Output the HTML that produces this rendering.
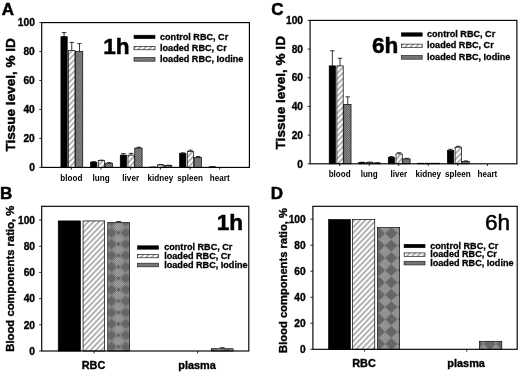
<!DOCTYPE html>
<html lang="en"><head><meta charset="utf-8"><title>Figure</title>
<style>
html,body{margin:0;padding:0;background:#fff;}
svg{display:block;filter:blur(0.5px);font-family:"Liberation Sans", Arial, Helvetica, sans-serif;}
text{fill:#000;stroke:#000;}
</style></head><body>
<svg width="520" height="373" viewBox="0 0 520 373">
<defs>
<pattern id="hatch" width="3.92" height="3.92" patternUnits="userSpaceOnUse" patternTransform="rotate(-46.5)">
<rect width="3.92" height="3.92" fill="#fff"/><line x1="0" y1="1" x2="3.92" y2="1" stroke="#000" stroke-width="0.6"/></pattern>
<pattern id="hatchs" width="3.6" height="3.6" patternUnits="userSpaceOnUse" patternTransform="rotate(-50)">
<rect width="3.6" height="3.6" fill="#fff"/><line x1="0" y1="0" x2="3.6" y2="0" stroke="#000" stroke-width="0.9"/></pattern>
<pattern id="grey" width="1.6" height="1.6" patternUnits="userSpaceOnUse" patternTransform="rotate(45)">
<rect width="1.6" height="1.6" fill="#9c9c9c"/><path d="M0 0.4H1.6M0.4 0V1.6" stroke="#4c4c4c" stroke-width="0.45"/></pattern>
<pattern id="fine" width="1.6" height="1.6" patternUnits="userSpaceOnUse" patternTransform="rotate(45)">
<path d="M0 0.4H1.6M0.4 0V1.6" stroke="#333" stroke-width="0.4"/></pattern>
<pattern id="moireD" x="379.0" y="257.9" width="12.3" height="12.3" patternUnits="userSpaceOnUse">
<rect width="12.3" height="12.3" fill="#969696"/>
<polygon points="0,0 6.15,0 0,6.15" fill="#727272"/><polygon points="12.3,0 6.15,0 12.3,6.15" fill="#727272"/>
<polygon points="0,12.3 6.15,12.3 0,6.15" fill="#727272"/><polygon points="12.3,12.3 6.15,12.3 12.3,6.15" fill="#727272"/>
<polygon points="6.15,0 12.3,6.15 6.15,12.3 0,6.15" fill="#aaaaaa"/>
</pattern>
<pattern id="moireB" x="111.4" y="232.7" width="14.4" height="11.4" patternUnits="userSpaceOnUse">
<rect width="14.4" height="11.4" fill="#989898"/>
<polygon points="0,0 5,0 0,5" fill="#727272"/><polygon points="14.4,0 9.4,0 14.4,5" fill="#727272"/>
<polygon points="0,11.4 5,11.4 0,6.4" fill="#727272"/><polygon points="14.4,11.4 9.4,11.4 14.4,6.4" fill="#727272"/>
<polygon points="7.2,0.6 12.3,5.7 7.2,10.8 2.1,5.7" fill="#acacac"/>
<rect x="6.4" y="-1.6" width="1.6" height="3.2" fill="#555"/><rect x="6.4" y="9.8" width="1.6" height="3.2" fill="#555"/>
</pattern>
</defs>
<rect width="520" height="373" fill="#fff"/>
<line x1="64.07" y1="36.65" x2="64.07" y2="32.59" stroke="#000" stroke-width="0.8"/>
<line x1="61.87" y1="32.59" x2="66.27" y2="32.59" stroke="#000" stroke-width="0.8"/>
<rect x="60.92" y="36.65" width="6.30" height="130.75" fill="#000" stroke="#000" stroke-width="0.7"/>
<line x1="71.77" y1="50.40" x2="71.77" y2="42.44" stroke="#000" stroke-width="0.8"/>
<line x1="69.57" y1="42.44" x2="73.97" y2="42.44" stroke="#000" stroke-width="0.8"/>
<rect x="68.62" y="50.40" width="6.30" height="117.00" fill="url(#hatch)" stroke="#000" stroke-width="0.7"/>
<line x1="79.47" y1="51.56" x2="79.47" y2="43.60" stroke="#000" stroke-width="0.8"/>
<line x1="77.27" y1="43.60" x2="81.67" y2="43.60" stroke="#000" stroke-width="0.8"/>
<rect x="75.42" y="51.56" width="7.35" height="115.84" fill="url(#grey)" stroke="#000" stroke-width="0.7"/>
<line x1="71.37" y1="167.40" x2="71.37" y2="169.60" stroke="#000" stroke-width="0.8"/>
<text x="71.37" y="180.70" font-size="8.8" font-weight="bold" text-anchor="middle" stroke-width="0" textLength="22" lengthAdjust="spacingAndGlyphs">blood</text>
<line x1="93.74" y1="162.19" x2="93.74" y2="161.61" stroke="#000" stroke-width="0.8"/>
<line x1="91.54" y1="161.61" x2="95.94" y2="161.61" stroke="#000" stroke-width="0.8"/>
<rect x="90.59" y="162.19" width="6.30" height="5.21" fill="#000" stroke="#000" stroke-width="0.7"/>
<line x1="101.44" y1="160.59" x2="101.44" y2="160.16" stroke="#000" stroke-width="0.8"/>
<line x1="99.24" y1="160.16" x2="103.64" y2="160.16" stroke="#000" stroke-width="0.8"/>
<rect x="98.29" y="160.59" width="6.30" height="6.81" fill="url(#hatch)" stroke="#000" stroke-width="0.7"/>
<line x1="109.14" y1="163.20" x2="109.14" y2="162.62" stroke="#000" stroke-width="0.8"/>
<line x1="106.94" y1="162.62" x2="111.34" y2="162.62" stroke="#000" stroke-width="0.8"/>
<rect x="105.09" y="163.20" width="7.35" height="4.20" fill="url(#grey)" stroke="#000" stroke-width="0.7"/>
<line x1="101.04" y1="167.40" x2="101.04" y2="169.60" stroke="#000" stroke-width="0.8"/>
<text x="101.04" y="180.70" font-size="8.8" font-weight="bold" text-anchor="middle" stroke-width="0" textLength="17.1" lengthAdjust="spacingAndGlyphs">lung</text>
<line x1="123.41" y1="155.09" x2="123.41" y2="153.64" stroke="#000" stroke-width="0.8"/>
<line x1="121.21" y1="153.64" x2="125.61" y2="153.64" stroke="#000" stroke-width="0.8"/>
<rect x="120.26" y="155.09" width="6.30" height="12.31" fill="#000" stroke="#000" stroke-width="0.7"/>
<line x1="131.11" y1="155.09" x2="131.11" y2="153.35" stroke="#000" stroke-width="0.8"/>
<line x1="128.91" y1="153.35" x2="133.31" y2="153.35" stroke="#000" stroke-width="0.8"/>
<rect x="127.96" y="155.09" width="6.30" height="12.31" fill="url(#hatch)" stroke="#000" stroke-width="0.7"/>
<line x1="138.81" y1="148.00" x2="138.81" y2="147.27" stroke="#000" stroke-width="0.8"/>
<line x1="136.61" y1="147.27" x2="141.01" y2="147.27" stroke="#000" stroke-width="0.8"/>
<rect x="134.76" y="148.00" width="7.35" height="19.40" fill="url(#grey)" stroke="#000" stroke-width="0.7"/>
<line x1="130.71" y1="167.40" x2="130.71" y2="169.60" stroke="#000" stroke-width="0.8"/>
<text x="130.71" y="180.70" font-size="8.8" font-weight="bold" text-anchor="middle" stroke-width="0" textLength="16.7" lengthAdjust="spacingAndGlyphs">liver</text>
<rect x="149.94" y="166.97" width="6.30" height="0.43" fill="#000" stroke="#000" stroke-width="0.7"/>
<line x1="160.79" y1="164.94" x2="160.79" y2="164.50" stroke="#000" stroke-width="0.8"/>
<line x1="158.59" y1="164.50" x2="162.99" y2="164.50" stroke="#000" stroke-width="0.8"/>
<rect x="157.64" y="164.94" width="6.30" height="2.46" fill="url(#hatch)" stroke="#000" stroke-width="0.7"/>
<line x1="168.49" y1="165.52" x2="168.49" y2="165.23" stroke="#000" stroke-width="0.8"/>
<line x1="166.29" y1="165.23" x2="170.69" y2="165.23" stroke="#000" stroke-width="0.8"/>
<rect x="164.44" y="165.52" width="7.35" height="1.88" fill="url(#grey)" stroke="#000" stroke-width="0.7"/>
<line x1="160.39" y1="167.40" x2="160.39" y2="169.60" stroke="#000" stroke-width="0.8"/>
<text x="160.39" y="180.70" font-size="8.8" font-weight="bold" text-anchor="middle" stroke-width="0" textLength="25.7" lengthAdjust="spacingAndGlyphs">kidney</text>
<line x1="182.76" y1="153.50" x2="182.76" y2="152.78" stroke="#000" stroke-width="0.8"/>
<line x1="180.56" y1="152.78" x2="184.96" y2="152.78" stroke="#000" stroke-width="0.8"/>
<rect x="179.61" y="153.50" width="6.30" height="13.90" fill="#000" stroke="#000" stroke-width="0.7"/>
<line x1="190.46" y1="151.62" x2="190.46" y2="150.17" stroke="#000" stroke-width="0.8"/>
<line x1="188.26" y1="150.17" x2="192.66" y2="150.17" stroke="#000" stroke-width="0.8"/>
<rect x="187.31" y="151.62" width="6.30" height="15.78" fill="url(#hatch)" stroke="#000" stroke-width="0.7"/>
<line x1="198.16" y1="157.41" x2="198.16" y2="156.54" stroke="#000" stroke-width="0.8"/>
<line x1="195.96" y1="156.54" x2="200.36" y2="156.54" stroke="#000" stroke-width="0.8"/>
<rect x="194.11" y="157.41" width="7.35" height="9.99" fill="url(#grey)" stroke="#000" stroke-width="0.7"/>
<line x1="190.06" y1="167.40" x2="190.06" y2="169.60" stroke="#000" stroke-width="0.8"/>
<text x="190.06" y="180.70" font-size="8.8" font-weight="bold" text-anchor="middle" stroke-width="0" textLength="25.7" lengthAdjust="spacingAndGlyphs">spleen</text>
<rect x="209.28" y="166.68" width="6.30" height="0.72" fill="#000" stroke="#000" stroke-width="0.7"/>
<line x1="219.73" y1="167.40" x2="219.73" y2="169.60" stroke="#000" stroke-width="0.8"/>
<text x="219.73" y="180.70" font-size="8.8" font-weight="bold" text-anchor="middle" stroke-width="0" textLength="19.8" lengthAdjust="spacingAndGlyphs">heart</text>
<rect x="41.7" y="22.6" width="207.7" height="144.8" fill="none" stroke="#000" stroke-width="1.15"/>
<line x1="39.30" y1="167.40" x2="41.70" y2="167.40" stroke="#000" stroke-width="0.8"/>
<text x="34.80" y="171.10" font-size="10.2" font-weight="bold" text-anchor="end" stroke-width="0.33" >0</text>
<line x1="39.30" y1="138.44" x2="41.70" y2="138.44" stroke="#000" stroke-width="0.8"/>
<text x="34.80" y="142.14" font-size="10.2" font-weight="bold" text-anchor="end" stroke-width="0.33" >20</text>
<line x1="39.30" y1="109.48" x2="41.70" y2="109.48" stroke="#000" stroke-width="0.8"/>
<text x="34.80" y="113.18" font-size="10.2" font-weight="bold" text-anchor="end" stroke-width="0.33" >40</text>
<line x1="39.30" y1="80.52" x2="41.70" y2="80.52" stroke="#000" stroke-width="0.8"/>
<text x="34.80" y="84.22" font-size="10.2" font-weight="bold" text-anchor="end" stroke-width="0.33" >60</text>
<line x1="39.30" y1="51.56" x2="41.70" y2="51.56" stroke="#000" stroke-width="0.8"/>
<text x="34.80" y="55.26" font-size="10.2" font-weight="bold" text-anchor="end" stroke-width="0.33" >80</text>
<line x1="39.30" y1="22.60" x2="41.70" y2="22.60" stroke="#000" stroke-width="0.8"/>
<text x="34.80" y="26.30" font-size="10.2" font-weight="bold" text-anchor="end" stroke-width="0.33" >100</text>
<text transform="translate(14.80,151.50) rotate(-90)" font-size="13.6" font-weight="bold" stroke-width="0.43" textLength="113.3" lengthAdjust="spacingAndGlyphs">Tissue level, % ID</text>
<text x="1.80" y="15.00" font-size="17" font-weight="bold" text-anchor="start" stroke-width="0.5" >A</text>
<text x="103.20" y="53.80" font-size="22.6" font-weight="bold" text-anchor="start" stroke-width="0.5" >1h</text>
<rect x="134.00" y="35.20" width="21.00" height="3.40" fill="#000" stroke="#000" stroke-width="0.6"/>
<text x="160.00" y="39.55" font-size="9.1" font-weight="bold" text-anchor="start" stroke-width="0.29" >control RBC, Cr</text>
<rect x="134.00" y="46.40" width="21.00" height="3.40" fill="url(#hatch)" stroke="#000" stroke-width="0.6"/>
<text x="160.00" y="50.75" font-size="9.1" font-weight="bold" text-anchor="start" stroke-width="0.29" >loaded RBC, Cr</text>
<rect x="134.00" y="57.60" width="21.00" height="3.60" fill="url(#grey)" stroke="#222" stroke-width="0.7"/>
<text x="160.00" y="62.05" font-size="9.1" font-weight="bold" text-anchor="start" stroke-width="0.29" >loaded RBC, Iodine</text>
<line x1="332.34" y1="65.86" x2="332.34" y2="50.80" stroke="#000" stroke-width="0.8"/>
<line x1="330.14" y1="50.80" x2="334.54" y2="50.80" stroke="#000" stroke-width="0.8"/>
<rect x="329.19" y="65.86" width="6.30" height="97.94" fill="#000" stroke="#000" stroke-width="0.7"/>
<line x1="340.04" y1="65.86" x2="340.04" y2="58.26" stroke="#000" stroke-width="0.8"/>
<line x1="337.84" y1="58.26" x2="342.24" y2="58.26" stroke="#000" stroke-width="0.8"/>
<rect x="336.89" y="65.86" width="6.30" height="97.94" fill="url(#hatch)" stroke="#000" stroke-width="0.7"/>
<line x1="347.74" y1="104.43" x2="347.74" y2="96.83" stroke="#000" stroke-width="0.8"/>
<line x1="345.54" y1="96.83" x2="349.94" y2="96.83" stroke="#000" stroke-width="0.8"/>
<rect x="343.69" y="104.43" width="7.35" height="59.37" fill="url(#grey)" stroke="#000" stroke-width="0.7"/>
<line x1="339.64" y1="163.80" x2="339.64" y2="166.00" stroke="#000" stroke-width="0.8"/>
<text x="339.64" y="177.10" font-size="8.8" font-weight="bold" text-anchor="middle" stroke-width="0" textLength="22" lengthAdjust="spacingAndGlyphs">blood</text>
<line x1="361.89" y1="162.51" x2="361.89" y2="162.22" stroke="#000" stroke-width="0.8"/>
<line x1="359.69" y1="162.22" x2="364.09" y2="162.22" stroke="#000" stroke-width="0.8"/>
<rect x="358.74" y="162.51" width="6.30" height="1.29" fill="#000" stroke="#000" stroke-width="0.7"/>
<line x1="369.59" y1="162.37" x2="369.59" y2="162.08" stroke="#000" stroke-width="0.8"/>
<line x1="367.39" y1="162.08" x2="371.79" y2="162.08" stroke="#000" stroke-width="0.8"/>
<rect x="366.44" y="162.37" width="6.30" height="1.43" fill="url(#hatch)" stroke="#000" stroke-width="0.7"/>
<line x1="377.29" y1="162.94" x2="377.29" y2="162.80" stroke="#000" stroke-width="0.8"/>
<line x1="375.09" y1="162.80" x2="379.49" y2="162.80" stroke="#000" stroke-width="0.8"/>
<rect x="373.24" y="162.94" width="7.35" height="0.86" fill="url(#grey)" stroke="#000" stroke-width="0.7"/>
<line x1="369.19" y1="163.80" x2="369.19" y2="166.00" stroke="#000" stroke-width="0.8"/>
<text x="369.19" y="177.10" font-size="8.8" font-weight="bold" text-anchor="middle" stroke-width="0" textLength="17.1" lengthAdjust="spacingAndGlyphs">lung</text>
<line x1="391.43" y1="157.35" x2="391.43" y2="156.49" stroke="#000" stroke-width="0.8"/>
<line x1="389.23" y1="156.49" x2="393.63" y2="156.49" stroke="#000" stroke-width="0.8"/>
<rect x="388.28" y="157.35" width="6.30" height="6.45" fill="#000" stroke="#000" stroke-width="0.7"/>
<line x1="399.13" y1="153.91" x2="399.13" y2="152.76" stroke="#000" stroke-width="0.8"/>
<line x1="396.93" y1="152.76" x2="401.33" y2="152.76" stroke="#000" stroke-width="0.8"/>
<rect x="395.98" y="153.91" width="6.30" height="9.89" fill="url(#hatch)" stroke="#000" stroke-width="0.7"/>
<line x1="406.83" y1="158.92" x2="406.83" y2="158.35" stroke="#000" stroke-width="0.8"/>
<line x1="404.63" y1="158.35" x2="409.03" y2="158.35" stroke="#000" stroke-width="0.8"/>
<rect x="402.78" y="158.92" width="7.35" height="4.88" fill="url(#grey)" stroke="#000" stroke-width="0.7"/>
<line x1="398.73" y1="163.80" x2="398.73" y2="166.00" stroke="#000" stroke-width="0.8"/>
<text x="398.73" y="177.10" font-size="8.8" font-weight="bold" text-anchor="middle" stroke-width="0" textLength="16.7" lengthAdjust="spacingAndGlyphs">liver</text>
<rect x="417.82" y="163.23" width="6.30" height="0.57" fill="#000" stroke="#000" stroke-width="0.7"/>
<rect x="425.52" y="163.23" width="6.30" height="0.57" fill="url(#hatch)" stroke="#000" stroke-width="0.7"/>
<rect x="432.32" y="163.23" width="7.35" height="0.57" fill="url(#grey)" stroke="#000" stroke-width="0.7"/>
<line x1="428.27" y1="163.80" x2="428.27" y2="166.00" stroke="#000" stroke-width="0.8"/>
<text x="428.27" y="177.10" font-size="8.8" font-weight="bold" text-anchor="middle" stroke-width="0" textLength="25.7" lengthAdjust="spacingAndGlyphs">kidney</text>
<line x1="450.51" y1="150.46" x2="450.51" y2="149.32" stroke="#000" stroke-width="0.8"/>
<line x1="448.31" y1="149.32" x2="452.71" y2="149.32" stroke="#000" stroke-width="0.8"/>
<rect x="447.36" y="150.46" width="6.30" height="13.34" fill="#000" stroke="#000" stroke-width="0.7"/>
<line x1="458.21" y1="147.17" x2="458.21" y2="146.31" stroke="#000" stroke-width="0.8"/>
<line x1="456.01" y1="146.31" x2="460.41" y2="146.31" stroke="#000" stroke-width="0.8"/>
<rect x="455.06" y="147.17" width="6.30" height="16.63" fill="url(#hatch)" stroke="#000" stroke-width="0.7"/>
<line x1="465.91" y1="161.36" x2="465.91" y2="160.93" stroke="#000" stroke-width="0.8"/>
<line x1="463.71" y1="160.93" x2="468.11" y2="160.93" stroke="#000" stroke-width="0.8"/>
<rect x="461.86" y="161.36" width="7.35" height="2.44" fill="url(#grey)" stroke="#000" stroke-width="0.7"/>
<line x1="457.81" y1="163.80" x2="457.81" y2="166.00" stroke="#000" stroke-width="0.8"/>
<text x="457.81" y="177.10" font-size="8.8" font-weight="bold" text-anchor="middle" stroke-width="0" textLength="25.7" lengthAdjust="spacingAndGlyphs">spleen</text>
<line x1="487.36" y1="163.80" x2="487.36" y2="166.00" stroke="#000" stroke-width="0.8"/>
<text x="487.36" y="177.10" font-size="8.8" font-weight="bold" text-anchor="middle" stroke-width="0" textLength="19.8" lengthAdjust="spacingAndGlyphs">heart</text>
<rect x="310.1" y="20.4" width="206.79999999999995" height="143.4" fill="none" stroke="#000" stroke-width="1.15"/>
<line x1="307.70" y1="163.80" x2="310.10" y2="163.80" stroke="#000" stroke-width="0.8"/>
<text x="303.00" y="167.50" font-size="10.2" font-weight="bold" text-anchor="end" stroke-width="0.33" >0</text>
<line x1="307.70" y1="135.12" x2="310.10" y2="135.12" stroke="#000" stroke-width="0.8"/>
<text x="303.00" y="138.82" font-size="10.2" font-weight="bold" text-anchor="end" stroke-width="0.33" >20</text>
<line x1="307.70" y1="106.44" x2="310.10" y2="106.44" stroke="#000" stroke-width="0.8"/>
<text x="303.00" y="110.14" font-size="10.2" font-weight="bold" text-anchor="end" stroke-width="0.33" >40</text>
<line x1="307.70" y1="77.76" x2="310.10" y2="77.76" stroke="#000" stroke-width="0.8"/>
<text x="303.00" y="81.46" font-size="10.2" font-weight="bold" text-anchor="end" stroke-width="0.33" >60</text>
<line x1="307.70" y1="49.08" x2="310.10" y2="49.08" stroke="#000" stroke-width="0.8"/>
<text x="303.00" y="52.78" font-size="10.2" font-weight="bold" text-anchor="end" stroke-width="0.33" >80</text>
<line x1="307.70" y1="20.40" x2="310.10" y2="20.40" stroke="#000" stroke-width="0.8"/>
<text x="303.00" y="24.10" font-size="10.2" font-weight="bold" text-anchor="end" stroke-width="0.33" >100</text>
<text transform="translate(285.40,149.40) rotate(-90)" font-size="13.6" font-weight="bold" stroke-width="0.43" textLength="113.3" lengthAdjust="spacingAndGlyphs">Tissue level, % ID</text>
<text x="271.20" y="15.10" font-size="17" font-weight="bold" text-anchor="start" stroke-width="0.5" >C</text>
<text x="371.90" y="52.70" font-size="22.6" font-weight="bold" text-anchor="start" stroke-width="0.5" >6h</text>
<rect x="401.30" y="32.80" width="20.90" height="3.40" fill="#000" stroke="#000" stroke-width="0.6"/>
<text x="427.00" y="37.15" font-size="9.1" font-weight="bold" text-anchor="start" stroke-width="0.29" >control RBC, Cr</text>
<rect x="401.30" y="44.10" width="20.90" height="3.40" fill="url(#hatch)" stroke="#000" stroke-width="0.6"/>
<text x="427.00" y="48.45" font-size="9.1" font-weight="bold" text-anchor="start" stroke-width="0.29" >loaded RBC, Cr</text>
<rect x="401.30" y="55.60" width="20.90" height="3.60" fill="url(#grey)" stroke="#222" stroke-width="0.7"/>
<text x="427.00" y="60.05" font-size="9.1" font-weight="bold" text-anchor="start" stroke-width="0.29" >loaded RBC, Iodine</text>
<rect x="58.25" y="220.92" width="22.20" height="130.08" fill="#000" stroke="#000" stroke-width="0.7"/>
<rect x="83.05" y="220.92" width="21.60" height="130.08" fill="url(#hatch)" stroke="#000" stroke-width="0.7"/>
<line x1="118.65" y1="222.28" x2="118.65" y2="221.62" stroke="#000" stroke-width="0.8"/>
<line x1="116.15" y1="221.62" x2="121.15" y2="221.62" stroke="#000" stroke-width="0.8"/>
<rect x="107.75" y="222.63" width="21.80" height="128.37" fill="url(#moireB)" stroke="#000" stroke-width="0.7"/>
<rect x="108.10" y="222.98" width="21.10" height="128.02" fill="url(#fine)" opacity="0.45"/>
<line x1="94.08" y1="351.00" x2="94.08" y2="353.40" stroke="#000" stroke-width="0.8"/>
<text x="93.48" y="369.30" font-size="10.9" font-weight="bold" text-anchor="middle" stroke-width="0.35" >RBC</text>
<line x1="222.20" y1="348.38" x2="222.20" y2="347.73" stroke="#000" stroke-width="0.8"/>
<line x1="219.70" y1="347.73" x2="224.70" y2="347.73" stroke="#000" stroke-width="0.8"/>
<rect x="211.30" y="348.73" width="21.80" height="2.27" fill="url(#moireB)" stroke="#000" stroke-width="0.7"/>
<rect x="211.65" y="349.08" width="21.10" height="1.92" fill="url(#fine)" opacity="0.45"/>
<line x1="197.63" y1="351.00" x2="197.63" y2="353.40" stroke="#000" stroke-width="0.8"/>
<text x="197.03" y="369.30" font-size="10.9" font-weight="bold" text-anchor="middle" stroke-width="0.35" >plasma</text>
<rect x="41.7" y="206.3" width="207.10000000000002" height="144.7" fill="none" stroke="#000" stroke-width="1.15"/>
<line x1="39.10" y1="351.00" x2="41.70" y2="351.00" stroke="#000" stroke-width="0.8"/>
<text x="35.00" y="354.70" font-size="10.2" font-weight="bold" text-anchor="end" stroke-width="0.33" >0</text>
<line x1="39.10" y1="324.81" x2="41.70" y2="324.81" stroke="#000" stroke-width="0.8"/>
<text x="35.00" y="328.51" font-size="10.2" font-weight="bold" text-anchor="end" stroke-width="0.33" >20</text>
<line x1="39.10" y1="298.62" x2="41.70" y2="298.62" stroke="#000" stroke-width="0.8"/>
<text x="35.00" y="302.32" font-size="10.2" font-weight="bold" text-anchor="end" stroke-width="0.33" >40</text>
<line x1="39.10" y1="272.43" x2="41.70" y2="272.43" stroke="#000" stroke-width="0.8"/>
<text x="35.00" y="276.13" font-size="10.2" font-weight="bold" text-anchor="end" stroke-width="0.33" >60</text>
<line x1="39.10" y1="246.24" x2="41.70" y2="246.24" stroke="#000" stroke-width="0.8"/>
<text x="35.00" y="249.94" font-size="10.2" font-weight="bold" text-anchor="end" stroke-width="0.33" >80</text>
<line x1="39.10" y1="220.05" x2="41.70" y2="220.05" stroke="#000" stroke-width="0.8"/>
<text x="35.00" y="223.75" font-size="10.2" font-weight="bold" text-anchor="end" stroke-width="0.33" >100</text>
<text transform="translate(13.90,351.70) rotate(-90)" font-size="11.7" font-weight="bold" stroke-width="0.37" textLength="146" lengthAdjust="spacingAndGlyphs">Blood components ratio, %</text>
<text x="0.00" y="199.20" font-size="17" font-weight="bold" text-anchor="start" stroke-width="0.5" >B</text>
<text x="216.80" y="229.70" font-size="22.6" font-weight="bold" text-anchor="start" stroke-width="0.5" >1h</text>
<rect x="137.60" y="245.80" width="21.00" height="3.40" fill="#000" stroke="#000" stroke-width="0.6"/>
<text x="164.20" y="250.15" font-size="9.1" font-weight="bold" text-anchor="start" stroke-width="0.29" >control RBC, Cr</text>
<rect x="137.60" y="254.40" width="21.00" height="3.40" fill="url(#hatch)" stroke="#000" stroke-width="0.6"/>
<text x="164.20" y="258.75" font-size="9.1" font-weight="bold" text-anchor="start" stroke-width="0.29" >loaded RBC, Cr</text>
<rect x="137.60" y="263.20" width="21.00" height="3.60" fill="url(#grey)" stroke="#222" stroke-width="0.7"/>
<text x="164.20" y="267.65" font-size="9.1" font-weight="bold" text-anchor="start" stroke-width="0.29" >loaded RBC, Iodine</text>
<rect x="328.65" y="219.53" width="21.70" height="129.77" fill="#000" stroke="#000" stroke-width="0.7"/>
<rect x="352.65" y="219.53" width="22.10" height="129.77" fill="url(#hatch)" stroke="#000" stroke-width="0.7"/>
<rect x="377.45" y="227.60" width="22.20" height="121.70" fill="url(#moireD)" stroke="#000" stroke-width="0.7"/>
<rect x="377.80" y="227.95" width="21.50" height="121.35" fill="url(#fine)" opacity="0.45"/>
<line x1="364.58" y1="349.30" x2="364.58" y2="351.70" stroke="#000" stroke-width="0.8"/>
<text x="363.98" y="367.40" font-size="10.9" font-weight="bold" text-anchor="middle" stroke-width="0.35" >RBC</text>
<rect x="479.60" y="341.32" width="22.20" height="7.98" fill="url(#moireD)" stroke="#000" stroke-width="0.7"/>
<rect x="479.95" y="341.67" width="21.50" height="7.63" fill="url(#fine)" opacity="0.45"/>
<line x1="466.73" y1="349.30" x2="466.73" y2="351.70" stroke="#000" stroke-width="0.8"/>
<text x="466.12" y="367.40" font-size="10.9" font-weight="bold" text-anchor="middle" stroke-width="0.35" >plasma</text>
<rect x="312.9" y="206.3" width="204.30000000000007" height="143.0" fill="none" stroke="#000" stroke-width="1.15"/>
<line x1="310.30" y1="349.30" x2="312.90" y2="349.30" stroke="#000" stroke-width="0.8"/>
<text x="305.70" y="353.00" font-size="10.2" font-weight="bold" text-anchor="end" stroke-width="0.33" >0</text>
<line x1="310.30" y1="323.28" x2="312.90" y2="323.28" stroke="#000" stroke-width="0.8"/>
<text x="305.70" y="326.98" font-size="10.2" font-weight="bold" text-anchor="end" stroke-width="0.33" >20</text>
<line x1="310.30" y1="297.25" x2="312.90" y2="297.25" stroke="#000" stroke-width="0.8"/>
<text x="305.70" y="300.95" font-size="10.2" font-weight="bold" text-anchor="end" stroke-width="0.33" >40</text>
<line x1="310.30" y1="271.23" x2="312.90" y2="271.23" stroke="#000" stroke-width="0.8"/>
<text x="305.70" y="274.93" font-size="10.2" font-weight="bold" text-anchor="end" stroke-width="0.33" >60</text>
<line x1="310.30" y1="245.21" x2="312.90" y2="245.21" stroke="#000" stroke-width="0.8"/>
<text x="305.70" y="248.91" font-size="10.2" font-weight="bold" text-anchor="end" stroke-width="0.33" >80</text>
<line x1="310.30" y1="219.18" x2="312.90" y2="219.18" stroke="#000" stroke-width="0.8"/>
<text x="305.70" y="222.88" font-size="10.2" font-weight="bold" text-anchor="end" stroke-width="0.33" >100</text>
<text transform="translate(287.30,352.90) rotate(-90)" font-size="11.7" font-weight="bold" stroke-width="0.37" textLength="144.8" lengthAdjust="spacingAndGlyphs">Blood components ratio, %</text>
<text x="270.80" y="199.10" font-size="17" font-weight="bold" text-anchor="start" stroke-width="0.5" >D</text>
<text x="485.00" y="229.80" font-size="22.6" font-weight="normal" text-anchor="start" stroke-width="0.5" >6h</text>
<rect x="404.10" y="244.30" width="20.90" height="3.40" fill="#000" stroke="#000" stroke-width="0.6"/>
<text x="430.20" y="248.65" font-size="9.1" font-weight="bold" text-anchor="start" stroke-width="0.29" >control RBC, Cr</text>
<rect x="404.10" y="252.90" width="20.90" height="3.40" fill="url(#hatch)" stroke="#000" stroke-width="0.6"/>
<text x="430.20" y="257.25" font-size="9.1" font-weight="bold" text-anchor="start" stroke-width="0.29" >loaded RBC, Cr</text>
<rect x="404.10" y="261.30" width="20.90" height="3.60" fill="url(#grey)" stroke="#222" stroke-width="0.7"/>
<text x="430.20" y="265.75" font-size="9.1" font-weight="bold" text-anchor="start" stroke-width="0.29" >loaded RBC, Iodine</text>
</svg>
</body></html>
